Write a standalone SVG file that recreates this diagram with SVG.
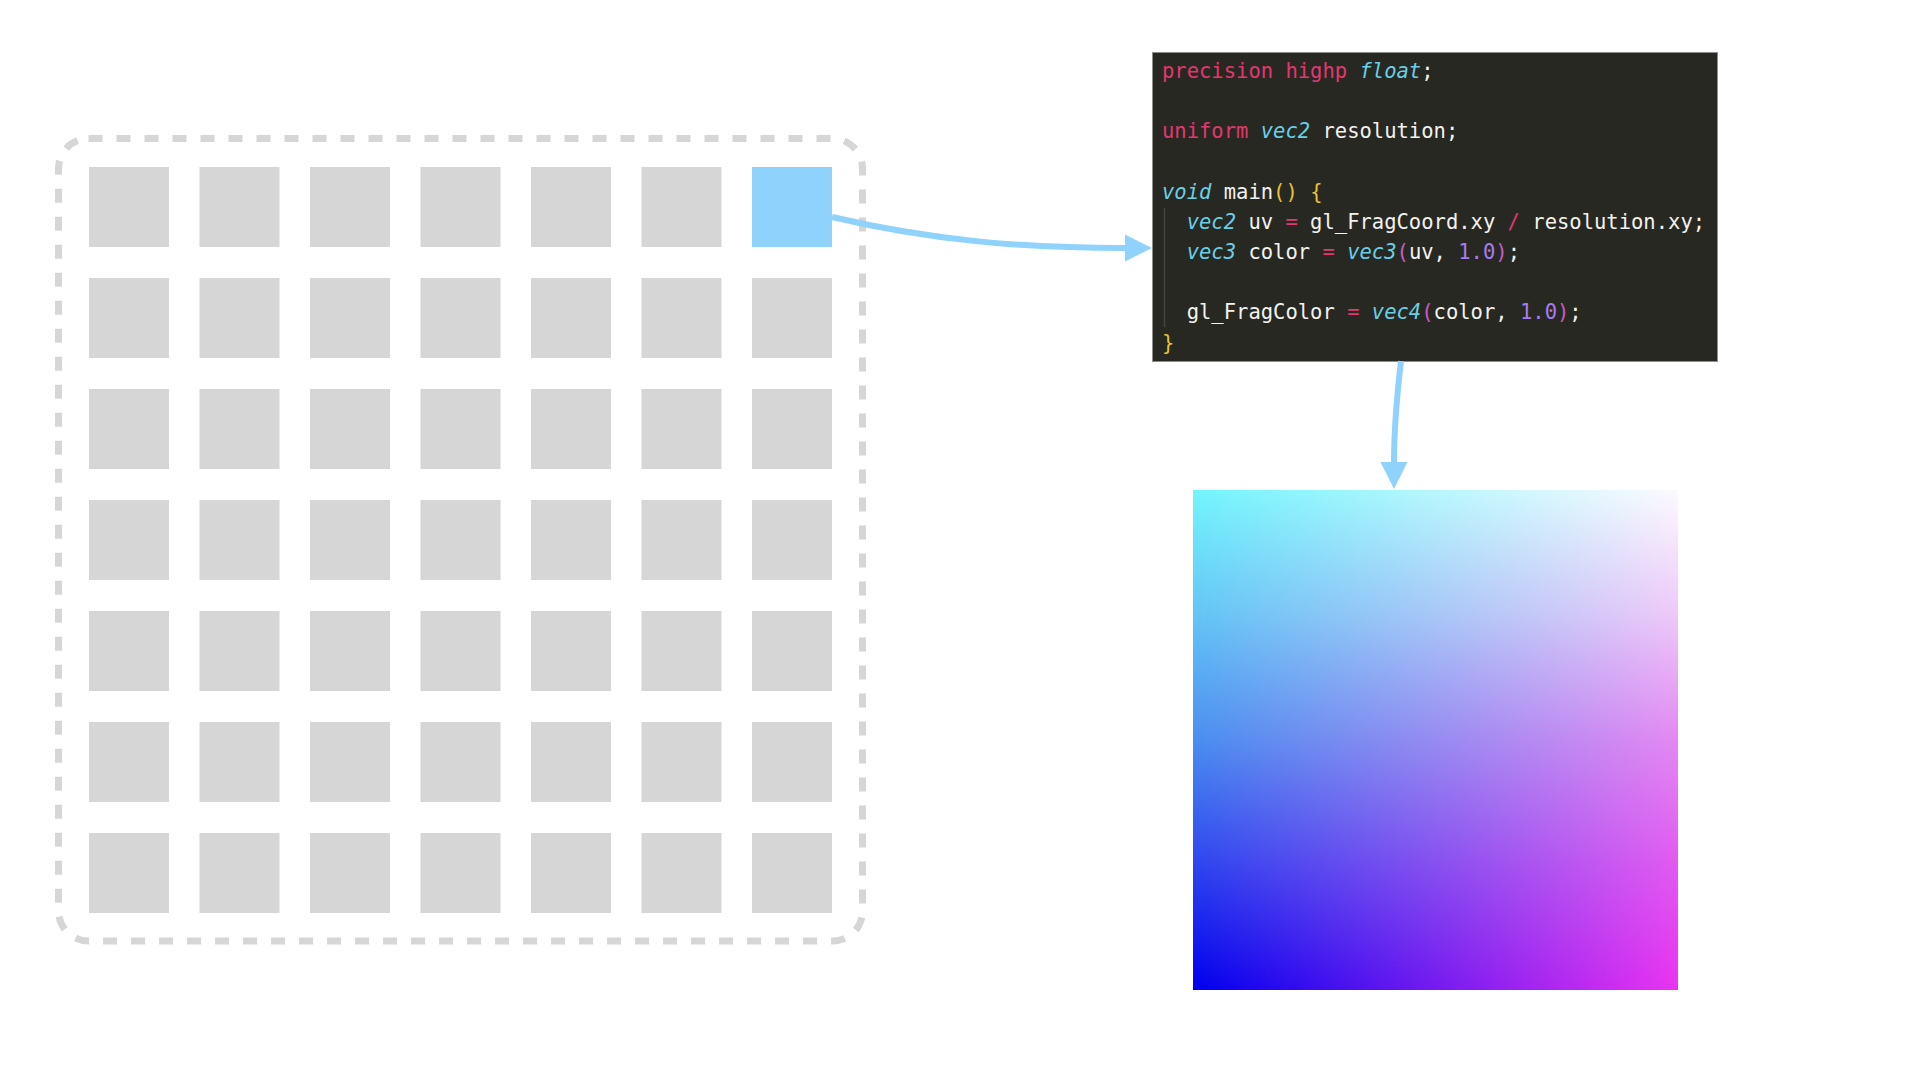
<svg xmlns="http://www.w3.org/2000/svg" width="1920" height="1080" viewBox="0 0 1920 1080">
<style>
.cell{fill:#d6d6d6}
.hl{fill:#8fd2fb}
.frame{fill:none;stroke:#d6d6d6;stroke-width:7;stroke-dasharray:14 14}
.conn{fill:none;stroke:#8fd2fb;stroke-width:6;marker-end:url(#ah)}
.code{font-family:"DejaVu Sans Mono","Liberation Mono",monospace;font-size:20.5px;fill:#f2f2ee;white-space:pre}
.kw{fill:#e3376f}
.ty{fill:#68d0e6;font-style:italic}
.br{fill:#eac236}
.pa{fill:#c85bc8}
.nu{fill:#a77cf2}
</style>
<defs>
<marker id="ah" markerUnits="userSpaceOnUse" viewBox="0 0 27 27" markerWidth="27" markerHeight="27" refX="0" refY="13.5" orient="auto" overflow="visible">
<path d="M0,0 L27,13.5 L0,27 Z" fill="#8fd2fb"/>
</marker>
<linearGradient id="gl" x1="0" y1="0" x2="0" y2="1">
<stop offset="0" stop-color="#72f5fd"/>
<stop offset="0.25" stop-color="#63c5f6"/>
<stop offset="0.5" stop-color="#4a8ef0"/>
<stop offset="0.75" stop-color="#2d45ef"/>
<stop offset="1" stop-color="#0000ee"/>
</linearGradient>
<linearGradient id="gr" x1="0" y1="0" x2="0" y2="1">
<stop offset="0" stop-color="#fdf9fe"/>
<stop offset="0.25" stop-color="#eec8f8"/>
<stop offset="0.5" stop-color="#e488f2"/>
<stop offset="0.75" stop-color="#e25af0"/>
<stop offset="1" stop-color="#ea33f0"/>
</linearGradient>
<linearGradient id="gm" x1="0" y1="0" x2="1" y2="0">
<stop offset="0" stop-color="#ffffff" stop-opacity="0"/>
<stop offset="1" stop-color="#ffffff" stop-opacity="1"/>
</linearGradient>
<mask id="mh" maskUnits="userSpaceOnUse" x="1193" y="490" width="485" height="500">
<rect x="1193" y="490" width="485" height="500" fill="url(#gm)"/>
</mask>
</defs>
<rect width="1920" height="1080" fill="#ffffff"/>

<g id="pixel-grid">
<rect class="frame" x="58.5" y="138.5" width="804" height="802.5" rx="30"/>
<g id="cell-1-1"><rect class="cell" x="89" y="167" width="80" height="80"/></g>
<g id="cell-1-2"><rect class="cell" x="199.5" y="167" width="80" height="80"/></g>
<g id="cell-1-3"><rect class="cell" x="310" y="167" width="80" height="80"/></g>
<g id="cell-1-4"><rect class="cell" x="420.5" y="167" width="80" height="80"/></g>
<g id="cell-1-5"><rect class="cell" x="531" y="167" width="80" height="80"/></g>
<g id="cell-1-6"><rect class="cell" x="641.5" y="167" width="80" height="80"/></g>
<g id="cell-1-7"><rect class="hl" x="752" y="167" width="80" height="80"/></g>
<g id="cell-2-1"><rect class="cell" x="89" y="278" width="80" height="80"/></g>
<g id="cell-2-2"><rect class="cell" x="199.5" y="278" width="80" height="80"/></g>
<g id="cell-2-3"><rect class="cell" x="310" y="278" width="80" height="80"/></g>
<g id="cell-2-4"><rect class="cell" x="420.5" y="278" width="80" height="80"/></g>
<g id="cell-2-5"><rect class="cell" x="531" y="278" width="80" height="80"/></g>
<g id="cell-2-6"><rect class="cell" x="641.5" y="278" width="80" height="80"/></g>
<g id="cell-2-7"><rect class="cell" x="752" y="278" width="80" height="80"/></g>
<g id="cell-3-1"><rect class="cell" x="89" y="389" width="80" height="80"/></g>
<g id="cell-3-2"><rect class="cell" x="199.5" y="389" width="80" height="80"/></g>
<g id="cell-3-3"><rect class="cell" x="310" y="389" width="80" height="80"/></g>
<g id="cell-3-4"><rect class="cell" x="420.5" y="389" width="80" height="80"/></g>
<g id="cell-3-5"><rect class="cell" x="531" y="389" width="80" height="80"/></g>
<g id="cell-3-6"><rect class="cell" x="641.5" y="389" width="80" height="80"/></g>
<g id="cell-3-7"><rect class="cell" x="752" y="389" width="80" height="80"/></g>
<g id="cell-4-1"><rect class="cell" x="89" y="500" width="80" height="80"/></g>
<g id="cell-4-2"><rect class="cell" x="199.5" y="500" width="80" height="80"/></g>
<g id="cell-4-3"><rect class="cell" x="310" y="500" width="80" height="80"/></g>
<g id="cell-4-4"><rect class="cell" x="420.5" y="500" width="80" height="80"/></g>
<g id="cell-4-5"><rect class="cell" x="531" y="500" width="80" height="80"/></g>
<g id="cell-4-6"><rect class="cell" x="641.5" y="500" width="80" height="80"/></g>
<g id="cell-4-7"><rect class="cell" x="752" y="500" width="80" height="80"/></g>
<g id="cell-5-1"><rect class="cell" x="89" y="611" width="80" height="80"/></g>
<g id="cell-5-2"><rect class="cell" x="199.5" y="611" width="80" height="80"/></g>
<g id="cell-5-3"><rect class="cell" x="310" y="611" width="80" height="80"/></g>
<g id="cell-5-4"><rect class="cell" x="420.5" y="611" width="80" height="80"/></g>
<g id="cell-5-5"><rect class="cell" x="531" y="611" width="80" height="80"/></g>
<g id="cell-5-6"><rect class="cell" x="641.5" y="611" width="80" height="80"/></g>
<g id="cell-5-7"><rect class="cell" x="752" y="611" width="80" height="80"/></g>
<g id="cell-6-1"><rect class="cell" x="89" y="722" width="80" height="80"/></g>
<g id="cell-6-2"><rect class="cell" x="199.5" y="722" width="80" height="80"/></g>
<g id="cell-6-3"><rect class="cell" x="310" y="722" width="80" height="80"/></g>
<g id="cell-6-4"><rect class="cell" x="420.5" y="722" width="80" height="80"/></g>
<g id="cell-6-5"><rect class="cell" x="531" y="722" width="80" height="80"/></g>
<g id="cell-6-6"><rect class="cell" x="641.5" y="722" width="80" height="80"/></g>
<g id="cell-6-7"><rect class="cell" x="752" y="722" width="80" height="80"/></g>
<g id="cell-7-1"><rect class="cell" x="89" y="833" width="80" height="80"/></g>
<g id="cell-7-2"><rect class="cell" x="199.5" y="833" width="80" height="80"/></g>
<g id="cell-7-3"><rect class="cell" x="310" y="833" width="80" height="80"/></g>
<g id="cell-7-4"><rect class="cell" x="420.5" y="833" width="80" height="80"/></g>
<g id="cell-7-5"><rect class="cell" x="531" y="833" width="80" height="80"/></g>
<g id="cell-7-6"><rect class="cell" x="641.5" y="833" width="80" height="80"/></g>
<g id="cell-7-7"><rect class="cell" x="752" y="833" width="80" height="80"/></g>
</g>

<g id="shader-code">
<rect x="1152.5" y="52.5" width="565" height="309" fill="#282823" stroke="#8e8e8a" stroke-width="1"/>
<line x1="1164.5" y1="208" x2="1164.5" y2="327" stroke="#46453f" stroke-width="1.5"/>
<g class="code">
<text x="1162" y="77.7"><tspan class="kw">precision</tspan> <tspan class="kw">highp</tspan> <tspan class="ty">float</tspan>;</text>
<text x="1162" y="138.3"><tspan class="kw">uniform</tspan> <tspan class="ty">vec2</tspan> resolution;</text>
<text x="1162" y="198.6"><tspan class="ty">void</tspan> main<tspan class="br">()</tspan> <tspan class="br">{</tspan></text>
<text x="1186.7" y="228.8"><tspan class="ty">vec2</tspan> uv <tspan class="kw">=</tspan> gl_FragCoord.xy <tspan class="kw">/</tspan> resolution.xy;</text>
<text x="1186.7" y="259"><tspan class="ty">vec3</tspan> color <tspan class="kw">=</tspan> <tspan class="ty">vec3</tspan><tspan class="pa">(</tspan>uv, <tspan class="nu">1.0</tspan><tspan class="pa">)</tspan>;</text>
<text x="1186.7" y="319.3">gl_FragColor <tspan class="kw">=</tspan> <tspan class="ty">vec4</tspan><tspan class="pa">(</tspan>color, <tspan class="nu">1.0</tspan><tspan class="pa">)</tspan>;</text>
<text x="1162" y="349.5"><tspan class="br">}</tspan></text>
</g>
</g>

<g id="output-gradient">
<rect x="1193" y="490" width="485" height="500" fill="url(#gl)"/>
<rect x="1193" y="490" width="485" height="500" fill="url(#gr)" mask="url(#mh)"/>
</g>

<g id="connectors">
<path class="conn" d="M832,217 C930,240 1020,248 1125,248"/>
<path class="conn" d="M1401,361 C1397,395 1394,430 1394,462"/>
</g>
</svg>
